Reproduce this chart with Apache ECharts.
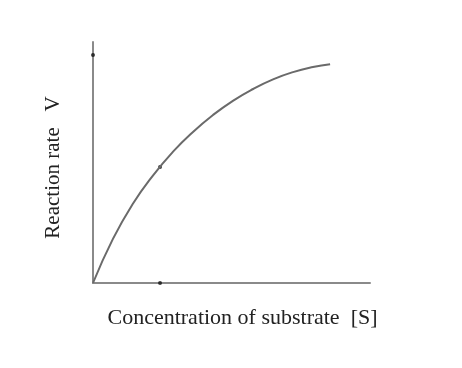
<!DOCTYPE html>
<html>
<head>
<meta charset="utf-8">
<script src="https://cdn.jsdelivr.net/npm/echarts@6/dist/echarts.min.js"></script>
<style>html,body{margin:0;padding:0;background:#fff;}#c{width:462px;height:368px;}</style>
</head>
<body>
<div id="c"></div>
<script>
var curveX = [0, 0.72, 1.44, 2.17, 2.89, 3.61, 4.33, 5.05, 5.78, 6.50, 7.22, 7.94, 8.56];
var curveY = [0, 1.83, 3.29, 4.47, 5.45, 6.27, 6.97, 7.56, 8.05, 8.45, 8.75, 8.96, 9.08];
var markPoints = [[2.42, 4.81], [2.42, 0], [0, 9.46]];
var xName = 'Concentration of substrate  [S]';
var yName = 'Reaction rate   V';

var chart = echarts.init(document.getElementById('c'));
var lineData = curveX.map(function (x, i) { return [x, curveY[i]]; });
chart.setOption({
  backgroundColor: '#fff',
  animation: false,
  grid: { left: 93, right: 92, top: 42, bottom: 85 },
  xAxis: {
    type: 'value', min: 0, max: 10,
    axisLine: { show: true, lineStyle: { color: '#8a8a8a', width: 2 } },
    axisTick: { show: false }, axisLabel: { show: false }, splitLine: { show: false },
    name: xName, nameLocation: 'middle', nameGap: 24,
    nameTextStyle: { fontFamily: 'Liberation Serif', fontSize: 22, color: '#222', padding: [0, 0, 0, 22] }
  },
  yAxis: {
    type: 'value', min: 0, max: 10,
    axisLine: { show: true, lineStyle: { color: '#8a8a8a', width: 2 } },
    axisTick: { show: false }, axisLabel: { show: false }, splitLine: { show: false },
    name: yName, nameLocation: 'middle', nameGap: 29,
    nameTextStyle: { fontFamily: 'Liberation Serif', fontSize: 21, color: '#222', padding: [0, 10, 0, 0] }
  },
  series: [
    {
      type: 'line', data: lineData, smooth: true, symbol: 'none',
      lineStyle: { color: '#6a6a6a', width: 2 }
    },
    {
      type: 'scatter', data: markPoints, symbolSize: 4,
      itemStyle: { color: '#111' }
    }
  ]
});
</script>
</body>
</html>
